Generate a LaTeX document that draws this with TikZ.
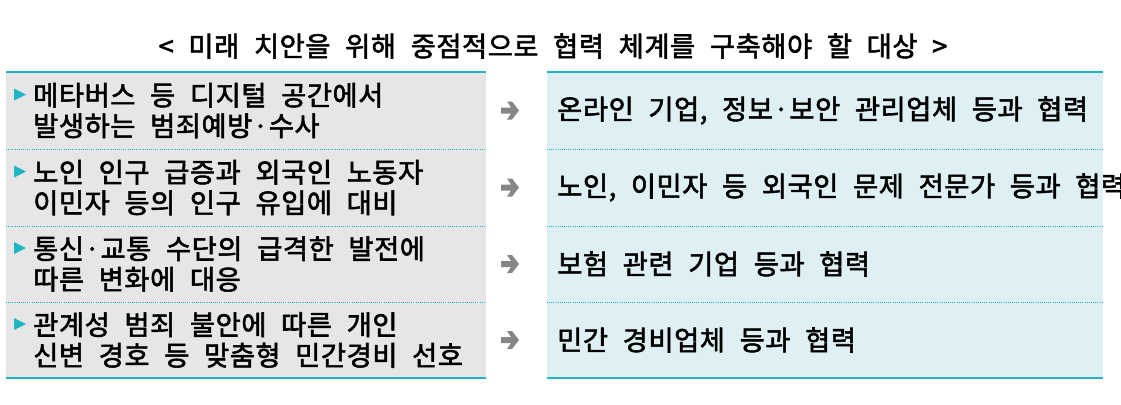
\documentclass[tikz,border=0pt]{standalone}
\usepackage{fontspec}
\setmainfont{Noto Sans CJK KR}[FakeBold=2,WordSpace=2.2,LetterSpace=2]
\definecolor{teal}{HTML}{1FB5C4}
\definecolor{lgray}{HTML}{E6E6E6}
\definecolor{lcyan}{HTML}{DEF0F4}
\tikzset{
  x=0.75pt,y=-0.75pt,
  ltxt/.style={anchor=west,align=left,font=\fontsize{20.5}{23}\selectfont,inner sep=0pt},
  rtxt/.style={anchor=west,font=\fontsize{20.5}{23}\selectfont,inner sep=0pt},
  bul/.style={fill=teal,draw=none},
  arrsh/.style={fill=gray!95,draw=none},
  sep/.style={draw=teal,densely dotted,line width=0.6pt},
  edge/.style={draw=teal,line width=1.1pt}
}
\begin{document}
\begin{tikzpicture}
\useasboundingbox (0,0) rectangle (1121,404);
\node[font=\fontsize{20.5}{22}\selectfont] (title) at (553,46) {< 미래 치안을 위해 중점적으로 협력 체계를 구축해야 할 대상 >};
\fill[lgray] (6,72) rectangle (486,378);
\fill[lcyan] (547,72) rectangle (1103,378);
\foreach \y in {149,226,302} {
  \draw[sep] (6,\y) -- (486,\y);
  \draw[sep] (547,\y) -- (1103,\y);
}
\draw[edge] (6,72) -- (486,72); \draw[edge] (547,72) -- (1103,72);
\draw[edge] (6,378) -- (486,378); \draw[edge] (547,378) -- (1103,378);
\foreach \r/\a/\b/\c [count=\i] in {
 110.5/메타버스 등 디지털 공간에서/발생하는 범죄예방·수사/온라인 기업{,} 정보·보안 관리업체 등과 협력,
 187.5/노인 인구 급증과 외국인 노동자/이민자 등의 인구 유입에 대비/노인{,} 이민자 등 외국인 문제 전문가 등과 협력,
 264/통신·교통 수단의 급격한 발전에/따른 변화에 대응/보험 관련 기업 등과 협력,
 340/관계성 범죄 불안에 따른 개인/신변 경호 등 맞춤형 민간경비 선호/민간 경비업체 등과 협력} {
  \fill[bul] (14,\r-22) -- (26,\r-16) -- (14,\r-10) -- cycle;
  \node[ltxt] (l\i) at (33,\r) {\a\\\b};
  \fill[arrsh] (501,\r-3) -- (511,\r-3) -- (507,\r-9) -- (512,\r-9) -- (519,\r) -- (512,\r+9) -- (507,\r+9) -- (511,\r+3) -- (501,\r+3) -- cycle;
  \node[rtxt] (r\i) at (557,\r) {\c};
}
\end{tikzpicture}
\end{document}
